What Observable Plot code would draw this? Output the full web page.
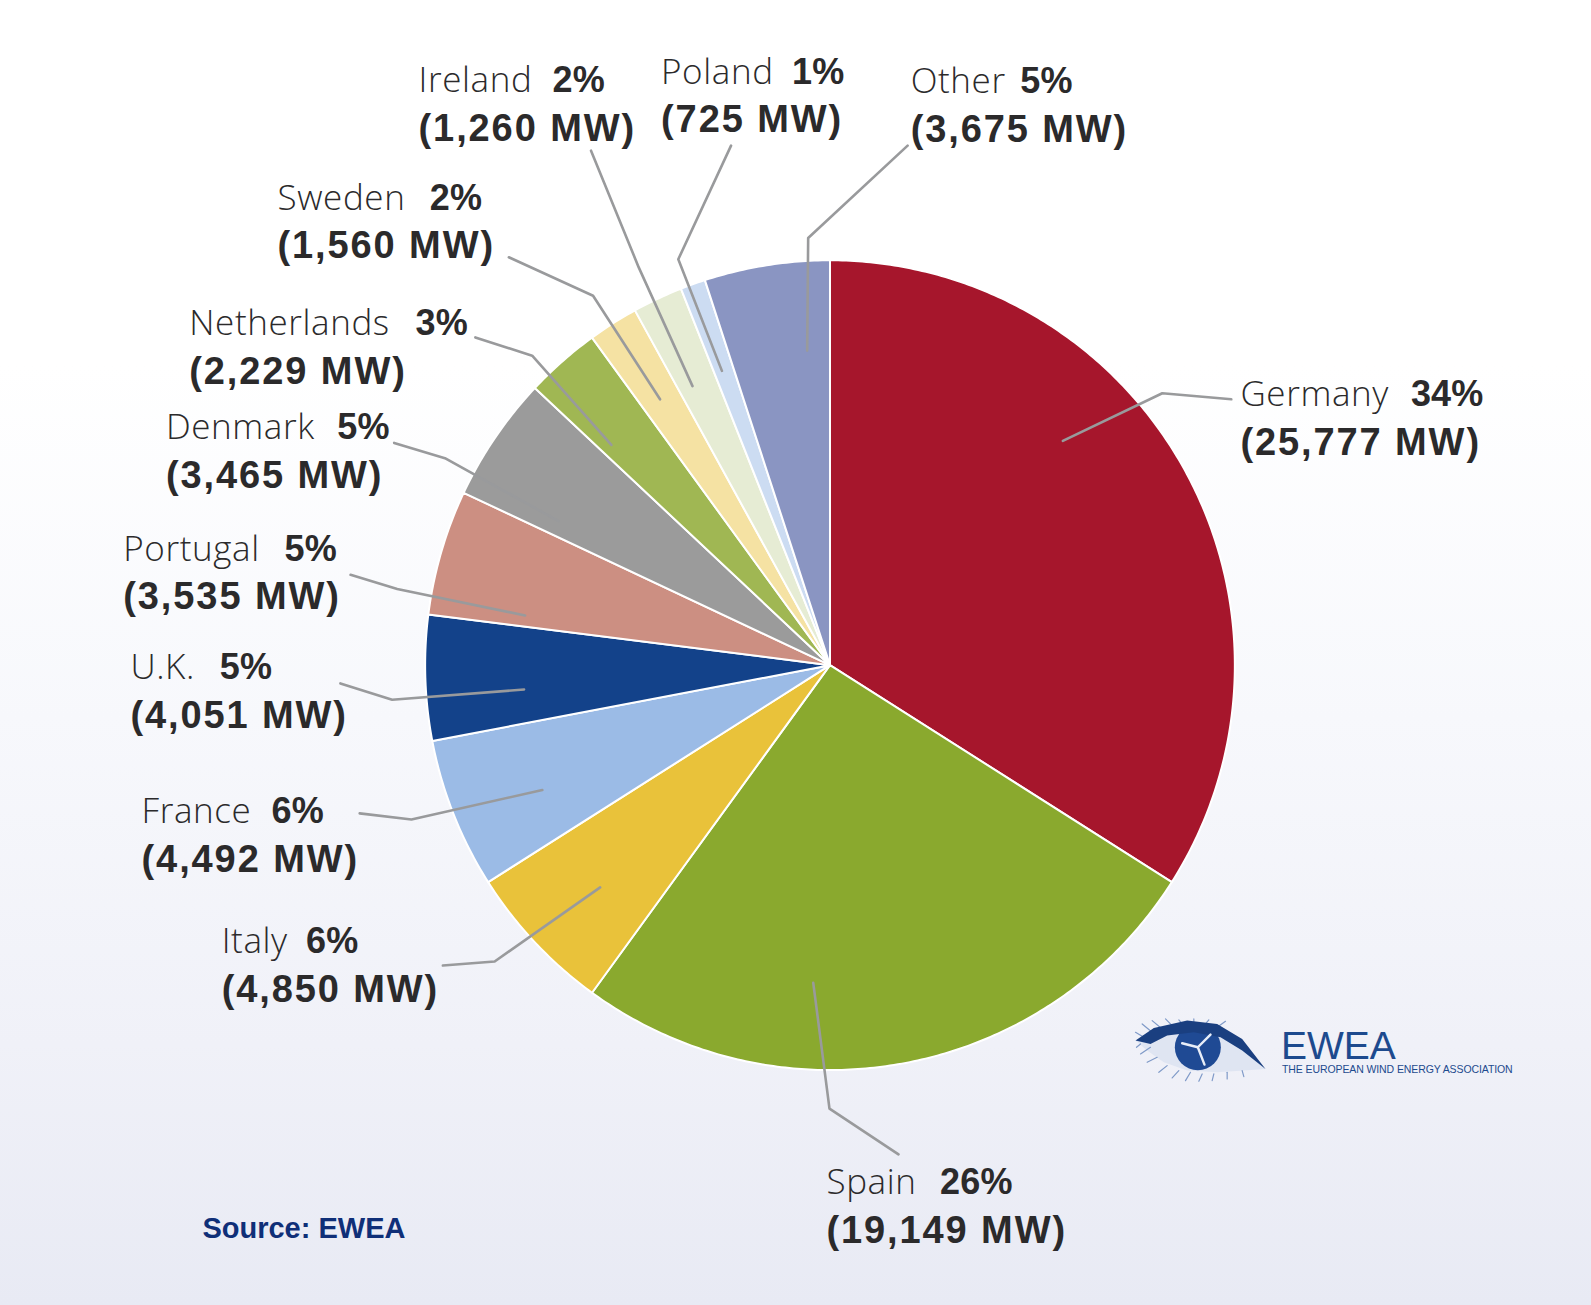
<!DOCTYPE html>
<html lang="en">
<head>
<meta charset="utf-8">
<title>EWEA pie chart</title>
<script src="https://cdn.jsdelivr.net/npm/d3@7"></script>
<script src="https://cdn.jsdelivr.net/npm/@observablehq/plot@0.6"></script>
<style>
  html, body { margin: 0; padding: 0; background: #fff; }
  svg { display: block; }
  .nm text { letter-spacing: 0.6px; }
  .pc text { letter-spacing: 0.2px; }
  .mw text { letter-spacing: 1.9px; }
  .tiny text { letter-spacing: -0.1px; }
</style>
</head>
<body>
<div id="chart"></div>
<script>
// ---- data ----
const countries = ["Germany","Spain","Italy","France","U.K.","Portugal","Denmark","Netherlands","Sweden","Ireland","Poland","Other"];
const percents  = [34,26,6,6,5,5,5,3,2,2,1,5];
const megawatts = [25777,19149,4850,4492,4051,3535,3465,2229,1560,1260,725,3675];
const sliceColors = ["#a6162c","#8aa92e","#e9c23a","#9bbbe6","#13428a","#cc8f82","#9b9b9b","#a0b753","#f5e2a3","#e6ecd4","#ccdcf2","#8a95c2"];

// ---- layout, in the chart's own units ----
const center = [817.5, 655], radius = 399;
const labelX   = [1222,814,218,139,128,121,163,186,273,412,651,897];
const pctX     = [1390,926,301,267,216,280,332,409,423,544,780,1005];
const baseline = [400,1176,939,811,669,552,432,330,206,90,82,91];
const leaders = [
  [[1047,434],[1145,387],[1213,393]],
  [[801,968],[817,1092],[885,1137]],
  [[591,874],[487,947],[436,951]],
  [[534,778],[405,807],[354,801]],
  [[516,679],[386,689],[335,673]],
  [[517,606],[391,580],[345,566]],
  [[550,513],[438,451],[388,436]],
  [[602,438],[524,350],[468,332]],
  [[650,393],[584,291],[501,253]],
  [[682,380],[629,263],[582,148]],
  [[711,365],[668,255],[720,143]],
  [[795,345],[796,234],[894,143]]
];

// ---- logo shapes, in coordinates of a 3x crop ----
const fromCrop = ([x, y]) => [(1110 + x / 3) * 1568 / 1591, (990 + y / 3) * 1568 / 1591];
const eyeWhite = [[75,150],[140,115],[230,100],[320,110],[390,150],[465,235],[400,240],[320,245],[230,240],[160,215],[110,180]];
const upperLid = [[75,150],[130,112],[230,90],[320,100],[395,145],[465,235],[395,180],[330,140],[250,125],[170,135],[120,160]];
const lashes = [
  [[100,140],[75,125]],[[125,125],[95,100]],[[155,115],[125,90]],[[185,105],[165,85]],[[215,100],[205,88]],
  [[250,95],[250,85]],[[285,100],[295,88]],[[320,110],[345,92]],[[90,160],[78,170]],[[120,170],[90,190]],
  [[140,200],[110,215]],[[170,225],[145,245]],[[205,240],[185,262]],[[240,245],[225,270]],[[275,250],[265,272]],[[310,250],[305,270]],[[350,245],[350,265]],[[395,240],[400,258]]
];
const turbineBlades = [[[262,170],[300,132]],[[262,170],[215,158]],[[262,170],[282,222]]];
const irisCenter = [262,170];

// ---- derived tables ----
const table = countries.map((name, i) => ({
  name, percent: percents[i], mw: megawatts[i],
  lx: labelX[i], px: pctX[i], by: baseline[i]
}));
const arcs = d3.pie().sort(null).value(d => d.percent)(table);
const slicePoints = arcs.flatMap(a => {
  const steps = Math.max(2, Math.ceil((a.endAngle - a.startAngle) / 0.01));
  const ring = d3.range(steps + 1).map(k => {
    const t = a.startAngle + (a.endAngle - a.startAngle) * k / steps;
    return {name: a.data.name, x: center[0] + radius * Math.sin(t), y: center[1] - radius * Math.cos(t)};
  });
  const hub = {name: a.data.name, x: center[0], y: center[1]};
  return [hub, ...ring, hub];
});
const leaderPoints = leaders.flatMap((pts, i) => pts.map(([x, y]) => ({name: countries[i], x, y})));
const shape = pts => pts.map(fromCrop).map(([x, y]) => ({x, y}));
const segs = list => list.flatMap((s, i) => s.map(fromCrop).map(([x, y]) => ({i, x, y})));

const ink = "#2b2a2b";
const nameFont = "'Open Sans', sans-serif";
const boldFont = "'Liberation Sans', Arial, sans-serif";
const logoBlue = "#1d4a8e";

const chart = Plot.plot({
  width: 1591,
  height: 1305,
  margin: 0,
  style: {background: "linear-gradient(180deg,#ffffff 0%,#ffffff 28%,#f7f8fc 55%,#f0f1f8 80%,#e8eaf4 100%)", overflow: "visible"},
  x: {domain: [0, 1568], range: [0, 1591], axis: null},
  y: {domain: [0, 1286], range: [0, 1305], axis: null},
  color: {domain: countries, range: sliceColors},
  marks: [
    Plot.line(slicePoints, {x: "x", y: "y", z: "name", fill: "name", stroke: "#fff", strokeWidth: 2, strokeLinejoin: "round"}),
    Plot.line(leaderPoints, {x: "x", y: "y", z: "name", stroke: "#999a9c", strokeWidth: 2.6, strokeLinejoin: "round"}),

    Plot.text(table, {x: "lx", y: "by", text: "name", textAnchor: "start", lineAnchor: "bottom", fontSize: 35, fontWeight: 300, fontFamily: nameFont, fill: ink, className: "nm"}),
    Plot.text(table, {x: "px", y: "by", text: d => `${d.percent}%`, textAnchor: "start", lineAnchor: "bottom", fontSize: 36, fontWeight: 700, fontFamily: boldFont, fill: ink, className: "pc"}),
    Plot.text(table, {x: "lx", y: d => d.by + 48, text: d => `(${d.mw.toLocaleString("en-US")} MW)`, textAnchor: "start", lineAnchor: "bottom", fontSize: 38, fontWeight: 700, fontFamily: boldFont, fill: ink, className: "mw"}),

    Plot.text(["Source: EWEA"], {x: 199, y: 1219, text: d => d, textAnchor: "start", lineAnchor: "bottom", fontSize: 29, fontWeight: 700, fontFamily: boldFont, fill: "#0f2f78"}),

    // logo
    Plot.line(shape(eyeWhite), {x: "x", y: "y", fill: "#dfe5f2", stroke: "none"}),
    Plot.line(segs(lashes), {x: "x", y: "y", z: "i", stroke: "#7f9ac8", strokeWidth: 1.2}),
    Plot.dot([fromCrop(irisCenter)], {x: d => d[0], y: d => d[1], r: 23, fill: "#1f4a94"}),
    Plot.line(shape(upperLid), {x: "x", y: "y", fill: "#1a3f80", stroke: "none"}),
    Plot.line(segs(turbineBlades), {x: "x", y: "y", z: "i", stroke: "#e8eef8", strokeWidth: 2.4}),
    Plot.text(["EWEA"], {x: 1262, y: 1043, text: d => d, textAnchor: "start", lineAnchor: "bottom", fontSize: 39, fontFamily: boldFont, fill: logoBlue, dx: 0}),
    Plot.text(["THE EUROPEAN WIND ENERGY ASSOCIATION"], {x: 1263, y: 1057, text: d => d, textAnchor: "start", lineAnchor: "bottom", fontSize: 10.5, fontFamily: "'Liberation Sans Narrow', 'Liberation Sans', sans-serif", fill: logoBlue, className: "tiny"})
  ]
});
document.getElementById("chart").appendChild(chart);
</script>
</body>
</html>
